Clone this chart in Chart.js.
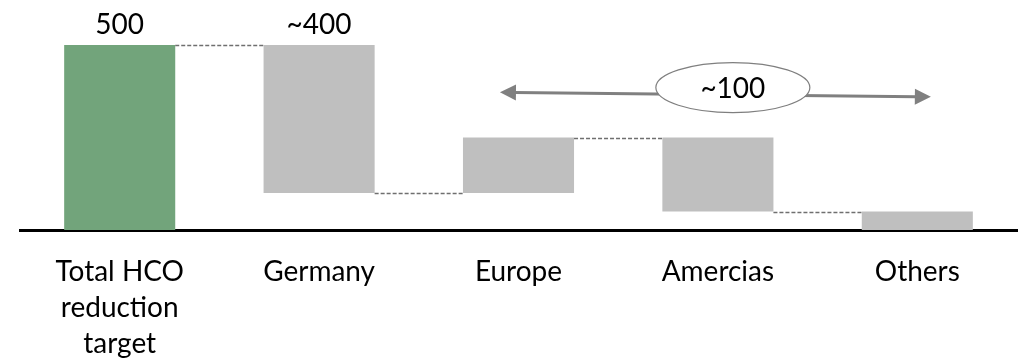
<!DOCTYPE html>
<html><head><meta charset="utf-8">
<script src="https://cdn.jsdelivr.net/npm/chart.js@4/dist/chart.umd.min.js"></script>
<style>html,body{margin:0;padding:0;background:#fff;overflow:hidden}#wrap{width:1028px;height:360px}</style>
</head><body><div id="wrap"><canvas id="c" width="1028" height="360"></canvas></div>
<script>
// ---- data ----
const categories = [["Total HCO", "reduction", "target"], "Germany", "Europe", "Amercias", "Others"];
const barStarts = [0, 100, 100, 50, 0];
const barEnds = [500, 500, 250, 250, 50];
const valueLabels = ["500", "~400", "", "", ""];
const barColors = ["#72A47B", "#BFBFBF", "#BFBFBF", "#BFBFBF", "#BFBFBF"];
const calloutText = "~100";
const yMax = 500;

// callout anchor (category index / value units)
const callout = { fromIndex: 1.907, fromValue: 372, toIndex: 4.068, toValue: 360, centerIndex: 3.075, centerValue: 385 };

const FONT = "Lato, 'Open Sans', sans-serif";

const overlay = {
  id: 'overlay',
  afterDatasetsDraw(chart) {
    const ctx = chart.ctx, meta = chart.getDatasetMeta(0);
    const xs = chart.scales.x, ys = chart.scales.y;
    // connectors
    ctx.save();
    ctx.setLineDash([4, 2]);
    ctx.strokeStyle = '#6F6F6F';
    ctx.lineWidth = 1.5;
    for (let i = 0; i < meta.data.length - 1; i++) {
      const a = meta.data[i], b = meta.data[i + 1];
      const ca = [barStarts[i], barEnds[i]], cb = [barStarts[i + 1], barEnds[i + 1]];
      const lvl = ca.find(v => cb.includes(v));
      if (lvl === undefined) continue;
      const py = Math.round(ys.getPixelForValue(lvl)) + 0.5;
      ctx.beginPath();
      ctx.moveTo(a.x + a.width / 2, py);
      ctx.lineTo(b.x - b.width / 2, py);
      ctx.stroke();
    }
    ctx.restore();
    // value labels
    ctx.save();
    ctx.fillStyle = '#000';
    ctx.font = "28px " + FONT;
    ctx.textAlign = 'center';
    ctx.textBaseline = 'alphabetic';
    meta.data.forEach((el, i) => {
      if (!valueLabels[i]) return;
      const top = ys.getPixelForValue(barEnds[i]);
      ctx.fillText(valueLabels[i], el.x, top - 11);
    });
    ctx.restore();
    // callout arrow
    const x1 = xs.getPixelForValue(callout.fromIndex), y1 = ys.getPixelForValue(callout.fromValue);
    const x2 = xs.getPixelForValue(callout.toIndex), y2 = ys.getPixelForValue(callout.toValue);
    const ang = Math.atan2(y2 - y1, x2 - x1);
    const hl = 16, hw = 8;
    ctx.save();
    ctx.strokeStyle = '#808080';
    ctx.fillStyle = '#808080';
    ctx.lineWidth = 3;
    ctx.beginPath();
    ctx.moveTo(x1 + Math.cos(ang) * (hl - 2), y1 + Math.sin(ang) * (hl - 2));
    ctx.lineTo(x2 - Math.cos(ang) * (hl - 2), y2 - Math.sin(ang) * (hl - 2));
    ctx.stroke();
    function head(tx, ty, a) {
      ctx.beginPath();
      ctx.moveTo(tx, ty);
      ctx.lineTo(tx - Math.cos(a) * hl - Math.sin(a) * hw, ty - Math.sin(a) * hl + Math.cos(a) * hw);
      ctx.lineTo(tx - Math.cos(a) * hl + Math.sin(a) * hw, ty - Math.sin(a) * hl - Math.cos(a) * hw);
      ctx.closePath();
      ctx.fill();
    }
    head(x2, y2, ang);
    head(x1, y1, ang + Math.PI);
    // ellipse
    const cx = xs.getPixelForValue(callout.centerIndex), cy = ys.getPixelForValue(callout.centerValue);
    ctx.beginPath();
    ctx.ellipse(cx, cy, 77, 25, 0, 0, Math.PI * 2);
    ctx.fillStyle = '#fff';
    ctx.fill();
    ctx.lineWidth = 1.2;
    ctx.strokeStyle = '#7F7F7F';
    ctx.stroke();
    ctx.fillStyle = '#000';
    ctx.font = "28px " + FONT;
    ctx.textAlign = 'center';
    ctx.textBaseline = 'alphabetic';
    ctx.fillText(calloutText, cx, cy + 10);
    ctx.restore();
  }
};

new Chart(document.getElementById('c'), {
  type: 'bar',
  data: {
    labels: categories,
    datasets: [{
      data: barStarts.map((s, i) => [s, barEnds[i]]),
      backgroundColor: barColors,
      borderWidth: 0,
      barPercentage: 1,
      categoryPercentage: 0.557
    }]
  },
  options: {
    responsive: false,
    animation: false,
    devicePixelRatio: 1,
    layout: { padding: { left: 20, right: 11, top: 45, bottom: 0 } },
    plugins: { legend: { display: false }, tooltip: { enabled: false } },
    scales: {
      x: {
        grid: { display: false, drawTicks: false },
        border: { display: true, color: '#000', width: 3 },
        ticks: { color: '#000', font: { family: FONT, size: 28, lineHeight: 1.286 }, padding: 24, maxRotation: 0, autoSkip: false },
        afterFit(scale) { scale.height = 130; }
      },
      y: { display: false, min: 0, max: yMax }
    }
  },
  plugins: [overlay]
});
</script>
</body></html>
